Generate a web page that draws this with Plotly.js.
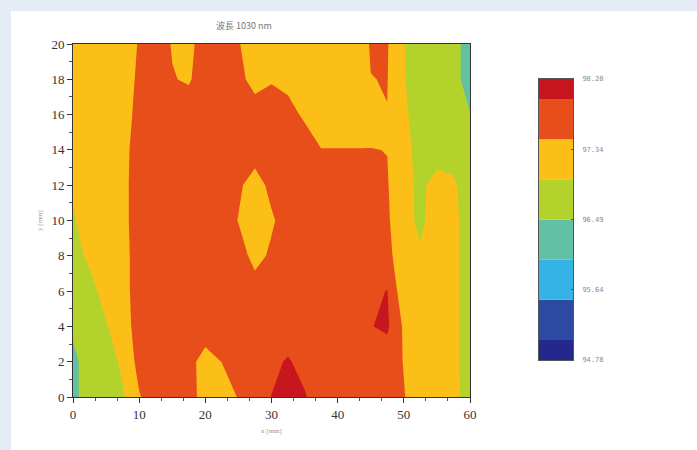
<!DOCTYPE html>
<html>
<head>
<meta charset="utf-8">
<script src="https://cdn.plot.ly/plotly-3.0.1.min.js"></script>
<style>
  html, body { margin: 0; padding: 0; width: 697px; height: 450px; overflow: hidden; background: #e5ecf6; }
  #chart { position: absolute; left: 11px; top: 11px; width: 686px; height: 439px; background: #ffffff; }
</style>
</head>
<body>
<div id="chart"></div>
<script>
// ---- data ----
const chartTitle = '波長 1030 nm';
const xLabel = 'x [mm]';
const yLabel = 'y [mm]';

// grid positions (mm)
const xs = [0, 2.5, 5, 7.5, 10, 12.5, 15, 17.5, 20, 22.5, 25, 27.5, 30, 32.5, 35, 37.5, 40, 42.5, 45, 47.5, 50, 52.5, 55, 57.5, 60];
const ys = [0, 2, 4, 6, 8, 10, 12, 14, 16, 18, 20];

// estimated values per row (y = 0 ... 20)
const row0  = [96.33, 96.80, 96.80, 96.93, 97.43, 97.75, 97.75, 97.60, 97.33, 97.25, 97.49, 97.75, 97.965, 98.10, 98.00, 97.70, 97.70, 97.70, 97.70, 97.70, 97.49, 97.20, 97.20, 97.10, 96.80];
const row2  = [96.33, 96.80, 96.80, 97.05, 97.63, 97.75, 97.75, 97.60, 97.30, 97.475, 97.70, 97.70, 97.85, 98.00, 97.80, 97.70, 97.70, 97.70, 97.70, 97.70, 97.45, 97.20, 97.20, 97.10, 96.75];
const row4  = [96.60, 96.80, 96.95, 97.20, 97.71, 97.70, 97.70, 97.70, 97.70, 97.70, 97.70, 97.70, 97.70, 97.70, 97.70, 97.70, 97.70, 97.70, 97.94, 98.03, 97.40, 97.20, 97.20, 97.10, 96.75];
const row6  = [96.70, 96.85, 97.12, 97.25, 97.74, 97.70, 97.70, 97.70, 97.70, 97.70, 97.70, 97.70, 97.70, 97.70, 97.70, 97.70, 97.70, 97.70, 97.85, 97.97, 97.13, 97.20, 97.20, 97.10, 96.75];
const row8  = [96.85, 97.05, 97.25, 97.25, 97.75, 97.70, 97.70, 97.70, 97.70, 97.70, 97.70, 97.30, 97.55, 97.70, 97.70, 97.70, 97.70, 97.70, 97.70, 97.55, 97.29, 97.02, 97.25, 97.10, 96.75];
const row10 = [96.93, 97.20, 97.25, 97.30, 97.75, 97.70, 97.70, 97.70, 97.70, 97.70, 97.45, 97.20, 97.40, 97.70, 97.70, 97.70, 97.70, 97.70, 97.70, 97.54, 97.10, 96.91, 97.13, 97.10, 96.75];
const row12 = [97.05, 97.20, 97.25, 97.30, 97.75, 97.70, 97.70, 97.70, 97.70, 97.70, 97.55, 97.25, 97.60, 97.70, 97.70, 97.70, 97.70, 97.70, 97.70, 97.50, 97.10, 96.90, 97.12, 97.05, 96.75];
const row14 = [97.05, 97.20, 97.25, 97.30, 97.70, 97.70, 97.70, 97.70, 97.70, 97.70, 97.70, 97.70, 97.70, 97.70, 97.70, 97.48, 97.48, 97.48, 97.48, 97.46, 97.10, 96.85, 96.80, 96.80, 96.70];
const row16 = [97.05, 97.20, 97.25, 97.25, 97.62, 97.70, 97.70, 97.70, 97.70, 97.70, 97.70, 97.70, 97.70, 97.61, 97.40, 97.20, 97.20, 97.20, 97.25, 97.46, 97.05, 96.80, 96.80, 96.65, 96.50];
const row18 = [97.10, 97.20, 97.25, 97.30, 97.53, 97.70, 97.49, 97.42, 97.70, 97.70, 97.60, 97.30, 97.43, 97.35, 97.20, 97.20, 97.20, 97.20, 97.46, 97.48, 97.00, 96.80, 96.80, 96.60, 96.35];
const row20 = [97.10, 97.20, 97.25, 97.30, 97.49, 97.70, 97.44, 97.34, 97.70, 97.70, 97.50, 97.20, 97.20, 97.20, 97.20, 97.20, 97.20, 97.20, 97.50, 97.50, 96.99, 96.80, 96.80, 96.60, 96.35];

// contour levels / colour bar
const zMin = 94.78;
const zMax = 98.20;
const levelEdges = [94.78, 95.0243, 95.5129, 96.0014, 96.4900, 96.9786, 97.4671, 97.9557, 98.20];
const bandColors = ['#22288c', '#2c4aa2', '#35b2e6', '#62c0a4', '#b3d22b', '#fbbf17', '#e84e1a', '#c8161e'];
const cbTickVals = [94.78, 95.635, 96.49, 97.345, 98.20];
const cbTickText = ['94.78', '95.64', '96.49', '97.34', '98.20'];
const xTickVals = [0, 10, 20, 30, 40, 50, 60];
const yTickVals = [0, 2, 4, 6, 8, 10, 12, 14, 16, 18, 20];

// ---- build ----
const zGrid = [row0, row2, row4, row6, row8, row10, row12, row14, row16, row18, row20];
const nBands = bandColors.length;
const colorscale = bandColors.map((c, i) => [i / (nBands - 1), c]);
const levelStart = levelEdges[1];
const levelEnd = levelEdges[levelEdges.length - 2];
const levelSize = (levelEnd - levelStart) / (levelEdges.length - 3);

const contourTrace = {
  type: 'contour',
  x: xs, y: ys, z: zGrid,
  xaxis: 'x', yaxis: 'y',
  autocontour: false,
  contours: { coloring: 'fill', start: levelStart, end: levelEnd, size: levelSize, showlines: false },
  line: { width: 0, smoothing: 0 },
  colorscale: colorscale,
  showscale: false,
  hoverinfo: 'x+y+z'
};

const bandBase = levelEdges.slice(0, -1);
const bandHeight = bandBase.map((b, i) => levelEdges[i + 1] - b);
const colorbarTrace = {
  type: 'bar',
  x: bandBase.map(() => 0),
  y: bandHeight,
  base: bandBase,
  width: bandBase.map(() => 1),
  marker: { color: bandColors, line: { width: 0 } },
  xaxis: 'x2', yaxis: 'y2',
  showlegend: false,
  hoverinfo: 'skip'
};

const W = 686, H = 439;
const mL = 62, mR = 86, mT = 33, mB = 53;
const pw = W - mL - mR, ph = H - mT - mB;

const tickFont = { family: 'Liberation Serif, DejaVu Serif, serif', size: 13, color: '#333333' };
const titleFont = { family: 'Liberation Serif, DejaVu Serif, serif', size: 7, color: '#999999' };

const layout = {
  width: W, height: H,
  paper_bgcolor: '#ffffff',
  plot_bgcolor: '#ffffff',
  margin: { l: mL, r: mR, t: mT, b: mB },
  showlegend: false,
  barmode: 'overlay',
  title: {
    text: chartTitle,
    x: 233 / W, xref: 'container', xanchor: 'center',
    y: 1 - 15 / H, yref: 'container', yanchor: 'middle',
    font: { family: 'Noto Sans CJK JP, Noto Sans, sans-serif', size: 9, color: '#777777' }
  },
  xaxis: {
    domain: [0, 397 / pw],
    range: [0, 60],
    tickvals: xTickVals,
    ticks: 'outside', ticklen: 5, tickcolor: '#333', tickwidth: 1,
    minor: { dtick: 10 / 3, tick0: 0, ticks: 'outside', ticklen: 3, tickcolor: '#555', showgrid: false },
    showgrid: false, zeroline: false,
    showline: true, mirror: true, linecolor: '#333', linewidth: 1,
    tickfont: tickFont,
    title: { text: xLabel, font: titleFont, standoff: 7 }
  },
  yaxis: {
    domain: [0, 1],
    range: [0, 20],
    tickvals: yTickVals,
    ticks: 'outside', ticklen: 5, tickcolor: '#333', tickwidth: 1,
    minor: { dtick: 1, tick0: 0, ticks: 'outside', ticklen: 3, tickcolor: '#555', showgrid: false },
    showgrid: false, zeroline: false,
    showline: true, mirror: true, linecolor: '#333', linewidth: 1,
    tickfont: tickFont,
    title: { text: yLabel, font: titleFont, standoff: 7 }
  },
  xaxis2: {
    domain: [466 / pw, 500 / pw],
    anchor: 'y2',
    range: [-0.5, 0.5],
    showticklabels: false, ticks: '',
    showgrid: false, zeroline: false,
    showline: true, mirror: true, linecolor: '#555', linewidth: 1,
    fixedrange: true
  },
  yaxis2: {
    domain: [(386 - 349) / ph, (386 - 68) / ph],
    anchor: 'x2',
    side: 'right',
    range: [zMin, zMax],
    tickvals: cbTickVals,
    ticktext: cbTickText,
    ticks: 'inside', ticklen: 2, tickcolor: '#555',
    ticklabelstandoff: 7,
    showgrid: false, zeroline: false,
    showline: true, mirror: true, linecolor: '#555', linewidth: 1,
    tickfont: { family: 'DejaVu Sans Mono, monospace', size: 7, color: '#888888' },
    fixedrange: true
  }
};

Plotly.newPlot('chart', [contourTrace, colorbarTrace], layout, { displayModeBar: false, staticPlot: true });
</script>
</body>
</html>
